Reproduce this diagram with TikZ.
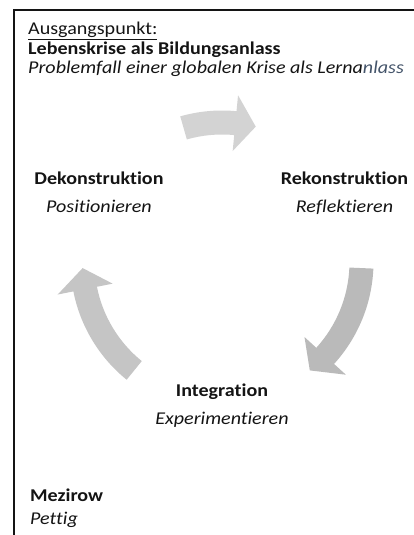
\documentclass[tikz,border=0pt]{standalone}
\usepackage{fontspec}
\setmainfont{Carlito}[FakeStretch=1.115,Ligatures=NoCommon]
\usetikzlibrary{calc,positioning}
\definecolor{ink}{RGB}{20,20,20}
\definecolor{slate}{RGB}{68,84,106}
\definecolor{arrA}{RGB}{211,211,211}
\definecolor{arrB}{RGB}{186,186,186}
\definecolor{arrC}{RGB}{197,197,197}
\tikzset{
  lbl/.style={inner sep=0pt,font=\fontsize{18}{20}\selectfont\bfseries,text=ink},
  sub/.style={inner sep=0pt,font=\fontsize{18}{20}\selectfont\itshape,text=ink},
  plain/.style={inner sep=0pt,font=\fontsize{18}{20}\selectfont,text=ink},
  frame/.style={line width=1.8pt,draw=ink},
}
% curved block arrow on the cycle: start angle, head base angle, tip angle, colour
\newcommand{\cycarrow}[4]{%
  \fill[#4] ($(C)+(#1:151.5pt)$) arc[start angle=#1,end angle=#2,radius=151.5pt]
    -- ($(C)+(#2:167.5pt)$) -- ($(C)+(#3:139.5pt)$) -- ($(C)+(#2:111.5pt)$)
    -- ($(C)+(#2:127.5pt)$) arc[start angle=#2,end angle=#1,radius=127.5pt] -- cycle;}

\begin{document}
\begin{tikzpicture}[x=1pt,y=1pt]
\useasboundingbox (0,0) rectangle (414,535);
\coordinate (C) at (222,273);

% frame
\draw[frame] (414,525) -- (14,525) -- (14,0);

% header
\node[plain,anchor=base west] (start) at (28,500) {\underline{Ausgangspunkt:}};
\node[lbl,anchor=base west] (krise) at (28,480) {Lebenskrise als Bildungsanlass};
\node[sub,anchor=base west] (fall) at (28,461)
  {Problemfall einer globalen Krise als Lerna\textcolor{slate}{nlass}};

% cycle arrows
\cycarrow{106}{84.5}{76}{arrA}
\cycarrow{-2.5}{-42.3}{-51}{arrB}
\cycarrow{231}{191.2}{182.5}{arrC}

% phases
\node[lbl,anchor=base] (dek) at (99,350) {Dekonstruktion};
\node[sub,anchor=base] (pos) at (99,322) {Positionieren};
\node[lbl,anchor=base] (rek) at (344.5,350) {Rekonstruktion};
\node[sub,anchor=base] (ref) at (344.5,322) {Reflektieren};
\node[lbl,anchor=base] (int) at (222,138) {Integration};
\node[sub,anchor=base] (exp) at (222,110) {Experimentieren};

% sources
\node[lbl,anchor=base west] (mez) at (30,33) {Mezirow};
\node[sub,anchor=base west] (pet) at (30,10) {Pettig};
\end{tikzpicture}
\end{document}
